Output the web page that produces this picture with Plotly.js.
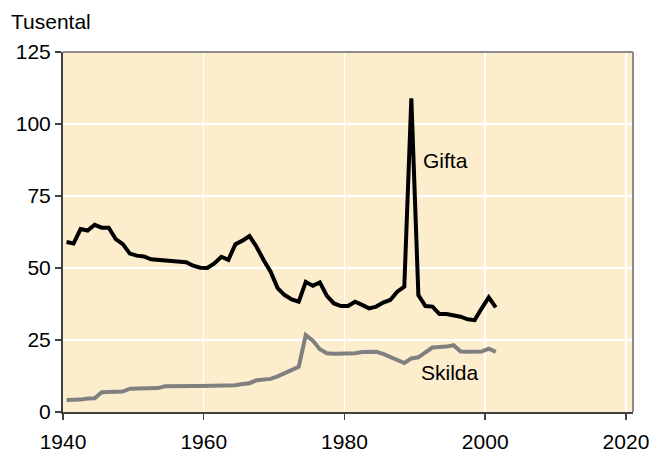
<!DOCTYPE html>
<html>
<head>
<meta charset="utf-8">
<script src="https://cdn.plot.ly/plotly-3.0.1.min.js"></script>
<style>
  html, body { margin: 0; padding: 0; background: #ffffff; }
  #chart { width: 653px; height: 452px; }
</style>
</head>
<body>
<div id="chart"></div>
<script>
// Years 1940-2001
const years = [];
for (let y = 1940; y <= 2001; y++) years.push(y);

// Gifta (marriages), thousands
const gifta = [
  59.0, 58.5, 63.5, 63.0, 65.0, 64.0, 64.0, 60.0, 58.3, 55.0,
  54.3, 54.0, 53.0, 52.8, 52.7, 52.2, 52.0, 52.0, 50.8, 50.1,
  50.0, 51.6, 53.9, 52.8, 58.3, 59.5, 61.1, 57.4, 52.8, 48.7,
  43.0, 40.6, 39.1, 38.3, 45.2, 43.8, 45.0, 40.3, 37.7, 36.8,
  36.8, 38.3, 37.2, 36.0, 36.6, 38.0, 38.9, 41.8, 43.5, 108.9,
  40.6, 36.8, 36.6, 34.0, 34.0, 33.7, 33.1, 32.2, 31.9, 36.0,
  39.8, 36.3
];

// Skilda (divorces), thousands
const skilda = [
  4.2, 4.2, 4.3, 4.7, 4.8, 6.9, 7.0, 7.0, 7.1, 8.1,
  8.2, 8.2, 8.2, 8.3, 8.9, 9.0, 9.0, 9.0, 9.0, 9.0,
  9.0, 9.0, 9.0, 9.0, 9.3, 9.7, 10.0, 11.0, 11.2, 11.5,
  12.4, 13.4, 14.6, 15.7, 26.7, 24.8, 21.8, 20.4, 20.2, 20.2,
  20.3, 20.4, 20.8, 20.9, 20.9, 20.2, 19.2, 18.2, 17.0, 18.6,
  19.0, 20.7, 22.4, 22.6, 22.7, 23.2, 21.0, 20.9, 20.9, 21.0,
  22.0, 20.9
];

const xTicks = [1940, 1960, 1980, 2000, 2020];
const yTicks = [0, 25, 50, 75, 100, 125];
const seriesNames = ["Gifta", "Skilda"];
const yTitle = "Tusental";

// each yearly value drawn at mid-year
const xMid = years.map(y => y + 0.5);

const FONT = "Liberation Sans, Arial, sans-serif";

const traces = [
  { x: xMid, y: gifta, type: "scatter", mode: "lines", name: seriesNames[0],
    line: { color: "#000000", width: 4 }, hoverinfo: "skip" },
  { x: xMid, y: skilda, type: "scatter", mode: "lines", name: seriesNames[1],
    line: { color: "#808080", width: 4 }, hoverinfo: "skip" }
];

const layout = {
  width: 653, height: 452,
  margin: { l: 63, r: 20, t: 52, b: 40, pad: 0 },
  paper_bgcolor: "#ffffff",
  plot_bgcolor: "rgb(252,237,204)",
  showlegend: false,
  font: { family: FONT, size: 21, color: "#000000" },
  xaxis: {
    range: [1940, 2021], tickvals: xTicks, ticktext: xTicks.map(String),
    showgrid: true, gridcolor: "#ffffff", gridwidth: 1.5,
    zeroline: false, showline: true, linecolor: "#404040", linewidth: 2,
    ticks: "outside", ticklen: 6, tickcolor: "#404040", tickwidth: 1.5,
    ticklabelstandoff: 4,
    tickfont: { family: FONT, size: 21, color: "#000000" }
  },
  yaxis: {
    range: [0, 125], tickvals: yTicks, ticktext: yTicks.map(String),
    showgrid: true, gridcolor: "#ffffff", gridwidth: 1.5,
    zeroline: false, showline: true, linecolor: "#404040", linewidth: 2,
    ticks: "outside", ticklen: 6, tickcolor: "#404040", tickwidth: 1.5,
    tickfont: { family: FONT, size: 21, color: "#000000" }
  },
  shapes: [
    { type: "line", xref: "paper", yref: "paper", x0: 0, x1: 1, y0: 1, y1: 1,
      line: { color: "#8c8c8c", width: 2 } },
    { type: "line", xref: "paper", yref: "paper", x0: 1, x1: 1, y0: 0, y1: 1,
      line: { color: "#8c8c8c", width: 2 } }
  ],
  annotations: [
    { text: yTitle, xref: "paper", yref: "paper", x: -0.095, y: 1.086,
      xanchor: "left", yanchor: "middle", showarrow: false,
      font: { family: FONT, size: 21, color: "#000000" } },
    { text: seriesNames[0], xref: "x", yref: "y", x: 1994.3, y: 87.5,
      xanchor: "center", yanchor: "middle", showarrow: false,
      font: { family: FONT, size: 21, color: "#000000" } },
    { text: seriesNames[1], xref: "x", yref: "y", x: 1995.0, y: 13.8,
      xanchor: "center", yanchor: "middle", showarrow: false,
      font: { family: FONT, size: 21, color: "#000000" } }
  ]
};

Plotly.newPlot("chart", traces, layout, { staticPlot: true, displayModeBar: false });
</script>
</body>
</html>
